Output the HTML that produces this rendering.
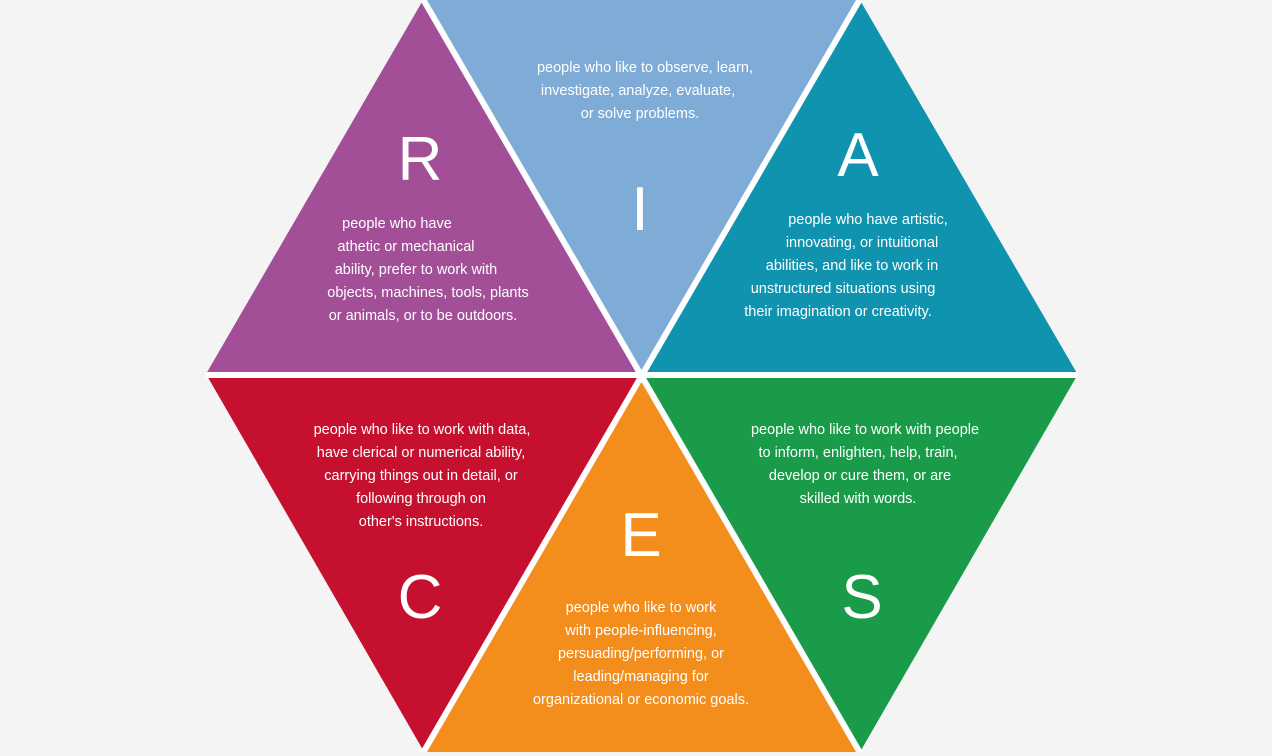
<!DOCTYPE html>
<html><head><style>
body{margin:0;background:#f4f4f4;}
svg{display:block}
text{font-family:"Liberation Sans",sans-serif;fill:#fff;text-anchor:middle}
.t{font-size:14.5px}
.L{font-size:62px}
</style></head><body>
<svg width="1272" height="756" viewBox="0 0 1272 756">
<rect width="1272" height="756" fill="#f4f4f4"/>
<polygon points="423,0 641,374 206,374" fill="#a24f98"/>
<polygon points="423,0 860,0 641,374" fill="#7eacd7"/>
<polygon points="860,0 1078,374 641,374" fill="#0f93ae"/>
<polygon points="206,374 641,374 423,750" fill="#c6102f"/>
<polygon points="641,374 860,752 423,752" fill="#f38d1b"/>
<polygon points="641,374 1078,374 860,752" fill="#199b49"/>
<line x1="0" y1="375" x2="1272" y2="375" stroke="#fff" stroke-width="6"/>
<line x1="420" y1="-6" x2="863" y2="758" stroke="#fff" stroke-width="6"/>
<line x1="863" y1="-6" x2="420" y2="758" stroke="#fff" stroke-width="6"/>
<polygon points="0,0 423,0 205,375 423,756 0,756" fill="#f4f4f4"/>
<polygon points="860,0 1272,0 1272,756 860,756 1078,375" fill="#f4f4f4"/>
<rect x="0" y="752" width="1272" height="4" fill="#f4f4f4"/>
<text class="L" x="420" y="180">R</text>
<text class="L" x="640" y="230">I</text>
<text class="L" x="858" y="176">A</text>
<text class="L" x="641" y="556">E</text>
<text class="L" x="420" y="618">C</text>
<text class="L" x="862" y="618">S</text>
<g class="t">
<text x="645" y="72">people who like to observe, learn,</text>
<text x="638" y="95">investigate, analyze, evaluate,</text>
<text x="640" y="118">or solve problems.</text>
<text x="397" y="228">people who have</text>
<text x="406" y="251">athetic or mechanical</text>
<text x="416" y="274">ability, prefer to work with</text>
<text x="428" y="297">objects, machines, tools, plants</text>
<text x="423" y="320">or animals, or to be outdoors.</text>
<text x="868" y="224">people who have artistic,</text>
<text x="862" y="247">innovating, or intuitional</text>
<text x="852" y="270">abilities, and like to work in</text>
<text x="843" y="293">unstructured situations using</text>
<text x="838" y="316">their imagination or creativity.</text>
<text x="422" y="434">people who like to work with data,</text>
<text x="421" y="457">have clerical or numerical ability,</text>
<text x="421" y="480">carrying things out in detail, or</text>
<text x="421" y="503">following through on</text>
<text x="421" y="526">other's instructions.</text>
<text x="865" y="434">people who like to work with people</text>
<text x="858" y="457">to inform, enlighten, help, train,</text>
<text x="860" y="480">develop or cure them, or are</text>
<text x="858" y="503">skilled with words.</text>
<text x="641" y="612">people who like to work</text>
<text x="641" y="635">with people-influencing,</text>
<text x="641" y="658">persuading/performing, or</text>
<text x="641" y="681">leading/managing for</text>
<text x="641" y="704">organizational or economic goals.</text>
</g>
</svg>
</body></html>
